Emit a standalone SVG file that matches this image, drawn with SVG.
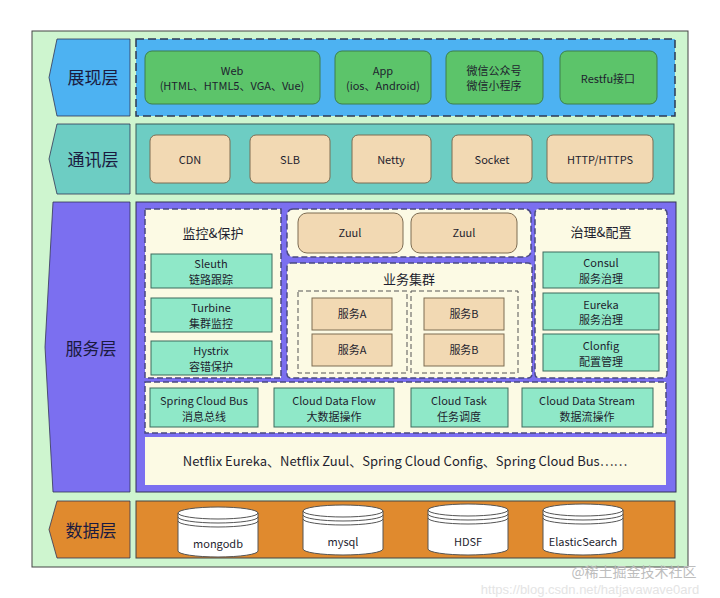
<svg xmlns="http://www.w3.org/2000/svg" width="720" height="598" viewBox="0 0 720 598">
<defs>
<style>
text{font-family:"Noto Sans CJK SC","Liberation Sans",sans-serif;text-anchor:middle;fill:#1e1e2e}
.n{font-size:11px}
.lab{font-size:17px;fill:#1a1a40}
.h{font-size:13px}
.green{fill:#5cc46a;stroke:#3c7f4a;stroke-width:1}
.tan{fill:#f2d9b3;stroke:#7d6c52;stroke-width:1}
.mint{fill:#8fe8c8;stroke:#3c6a5c;stroke-width:1}
.cream{fill:#fcfae4}
.dash{fill:#fcfae4;stroke:#4a4a80;stroke-width:1.5;stroke-dasharray:6 3}
.dash2{fill:none;stroke:#555;stroke-width:1;stroke-dasharray:5 3}
.cyl{fill:#fff;stroke:#555;stroke-width:1}
.line{fill:none;stroke:#555;stroke-width:1}
</style>
</defs>
<rect x="0" y="0" width="720" height="598" fill="#fff"/>
<rect x="32" y="31" width="656" height="536" fill="#cef5cf" stroke="#444" stroke-width="1"/>

<g id="layer-labels">
<g id="label-presentation"><path d="M57,39 H130 V116 H57 L49,77.5 Z" fill="#4db2f2" stroke="#335" stroke-width="0.8"/><text class="lab" x="93" y="84">展现层</text></g>
<g id="label-comm"><path d="M57,124 H130 V194 H57 L49,159 Z" fill="#6dcdc3" stroke="#335" stroke-width="0.8"/><text class="lab" x="93" y="166">通讯层</text></g>
<g id="label-service"><path d="M53,202 H130 V492 H53 L45,347 Z" fill="#7b6ff0" stroke="#335" stroke-width="0.8"/><text class="lab" x="91" y="355">服务层</text></g>
<g id="label-data"><path d="M57,501 H130 V558 H57 L49,529.5 Z" fill="#e08a2e" stroke="#335" stroke-width="0.8"/><text class="lab" x="91" y="537">数据层</text></g>
</g>

<g id="presentation">
<rect x="136" y="39" width="539" height="77" fill="#4db2f2" stroke="#2e3a55" stroke-width="1.5" stroke-dasharray="8 4"/>
<g id="web"><rect class="green" x="145" y="51" width="175" height="53" rx="7"/><text class="n" x="232" y="75">Web</text><text class="n" x="232" y="90">(HTML、HTML5、VGA、Vue)</text></g>
<g id="app"><rect class="green" x="335" y="51" width="96" height="53" rx="7"/><text class="n" x="383" y="75">App</text><text class="n" x="383" y="90">(ios、Android)</text></g>
<g id="wechat"><rect class="green" x="446" y="51" width="97" height="53" rx="7"/><text class="n" x="494" y="75">微信公众号</text><text class="n" x="494" y="90">微信小程序</text></g>
<g id="restful"><rect class="green" x="560" y="51" width="97" height="53" rx="7"/><text class="n" x="608" y="83">Restfu接口</text></g>
</g>

<g id="communication">
<rect x="136" y="124" width="538" height="70" fill="#6dcdc3" stroke="#3a5a5a" stroke-width="1"/>
<g id="cdn"><rect class="tan" x="150" y="135" width="80" height="48" rx="6"/><text class="n" x="190" y="164">CDN</text></g>
<g id="slb"><rect class="tan" x="250" y="135" width="80" height="48" rx="6"/><text class="n" x="290" y="164">SLB</text></g>
<g id="netty"><rect class="tan" x="352" y="135" width="79" height="48" rx="6"/><text class="n" x="391" y="164">Netty</text></g>
<g id="socket"><rect class="tan" x="452" y="135" width="80" height="48" rx="6"/><text class="n" x="492" y="164">Socket</text></g>
<g id="http"><rect class="tan" x="547" y="135" width="106" height="48" rx="6"/><text class="n" x="600" y="164">HTTP/HTTPS</text></g>
</g>

<g id="service">
<rect x="136" y="202" width="540" height="290" fill="#7b6ff0" stroke="#335" stroke-width="1"/>

<g id="monitor">
<rect class="dash" x="145" y="209" width="136" height="169"/>
<text class="h" x="213" y="238">监控&amp;保护</text>
<g id="sleuth"><rect class="mint" x="151" y="254" width="121" height="34"/><text class="n" x="211" y="268">Sleuth</text><text class="n" x="211" y="284">链路跟踪</text></g>
<g id="turbine"><rect class="mint" x="151" y="298" width="121" height="34"/><text class="n" x="211" y="312">Turbine</text><text class="n" x="211" y="328">集群监控</text></g>
<g id="hystrix"><rect class="mint" x="151" y="341" width="121" height="34"/><text class="n" x="211" y="355">Hystrix</text><text class="n" x="211" y="371">容错保护</text></g>
</g>

<g id="zuul-group">
<rect class="dash" x="287" y="209" width="244" height="48" rx="6"/>
<g id="zuul1"><rect class="tan" x="298" y="213" width="105" height="40" rx="9"/><text class="n" x="350" y="237">Zuul</text></g>
<g id="zuul2"><rect class="tan" x="411" y="213" width="106" height="40" rx="9"/><text class="n" x="464" y="237">Zuul</text></g>
</g>

<g id="cluster">
<rect class="dash" x="287" y="263" width="245" height="115" rx="4"/>
<text class="h" x="409" y="284">业务集群</text>
<rect class="dash2" x="298" y="291" width="109" height="82"/>
<rect class="dash2" x="411" y="291" width="107" height="82"/>
<g id="svcA1"><rect class="tan" x="312" y="298" width="80" height="32"/><text class="n" x="352" y="318">服务A</text></g>
<g id="svcA2"><rect class="tan" x="312" y="334" width="80" height="32"/><text class="n" x="352" y="354">服务A</text></g>
<g id="svcB1"><rect class="tan" x="424" y="298" width="80" height="32"/><text class="n" x="464" y="318">服务B</text></g>
<g id="svcB2"><rect class="tan" x="424" y="334" width="80" height="32"/><text class="n" x="464" y="354">服务B</text></g>
</g>

<g id="governance">
<rect class="dash" x="535" y="209" width="132" height="169" rx="4"/>
<text class="h" x="601" y="237">治理&amp;配置</text>
<g id="consul"><rect class="mint" x="543" y="252" width="116" height="36"/><text class="n" x="601" y="267">Consul</text><text class="n" x="601" y="283">服务治理</text></g>
<g id="eureka"><rect class="mint" x="543" y="293" width="116" height="37"/><text class="n" x="601" y="309">Eureka</text><text class="n" x="601" y="324">服务治理</text></g>
<g id="clonfig"><rect class="mint" x="543" y="334" width="116" height="37"/><text class="n" x="601" y="350">Clonfig</text><text class="n" x="601" y="366">配置管理</text></g>
</g>

<g id="spring-row">
<rect class="dash" x="145" y="382" width="521" height="51"/>
<g id="bus"><rect class="mint" x="150" y="388" width="108" height="39"/><text class="n" x="204" y="405">Spring Cloud Bus</text><text class="n" x="204" y="421">消息总线</text></g>
<g id="flow"><rect class="mint" x="274" y="388" width="120" height="39"/><text class="n" x="334" y="405">Cloud Data Flow</text><text class="n" x="334" y="421">大数据操作</text></g>
<g id="task"><rect class="mint" x="411" y="388" width="97" height="39"/><text class="n" x="459" y="405">Cloud Task</text><text class="n" x="459" y="421">任务调度</text></g>
<g id="stream"><rect class="mint" x="522" y="388" width="131" height="39"/><text class="n" x="587" y="405">Cloud Data Stream</text><text class="n" x="587" y="421">数据流操作</text></g>
</g>

<g id="netflix">
<rect class="cream" x="145" y="437" width="521" height="48"/>
<text x="405" y="466" style="font-size:13px">Netflix Eureka、Netflix Zuul、Spring Cloud Config、Spring Cloud Bus……</text>
</g>
</g>

<g id="data">
<rect x="136" y="501" width="539" height="57" fill="#e08a2e" stroke="#444" stroke-width="1"/>
<g id="mongodb"><path class="cyl" d="M178,513 A40,6 0 0 1 258,513 V551 A40,6 0 0 1 178,551 Z"/><path class="line" d="M178,513 A40,6 0 0 0 258,513 M178,517 A40,6 0 0 0 258,517 M178,521 A40,6 0 0 0 258,521"/><text class="n" x="218" y="548">mongodb</text></g>
<g id="mysql"><path class="cyl" d="M303,511 A40,6 0 0 1 383,511 V549 A40,6 0 0 1 303,549 Z"/><path class="line" d="M303,511 A40,6 0 0 0 383,511 M303,515 A40,6 0 0 0 383,515 M303,519 A40,6 0 0 0 383,519"/><text class="n" x="343" y="546">mysql</text></g>
<g id="hdsf"><path class="cyl" d="M428,510 A40,6 0 0 1 508,510 V549 A40,6 0 0 1 428,549 Z"/><path class="line" d="M428,510 A40,6 0 0 0 508,510 M428,514 A40,6 0 0 0 508,514 M428,518 A40,6 0 0 0 508,518"/><text class="n" x="468" y="546">HDSF</text></g>
<g id="es"><path class="cyl" d="M543,510 A40,6 0 0 1 623,510 V549 A40,6 0 0 1 543,549 Z"/><path class="line" d="M543,510 A40,6 0 0 0 623,510 M543,514 A40,6 0 0 0 623,514 M543,518 A40,6 0 0 0 623,518"/><text class="n" x="583" y="546">ElasticSearch</text></g>
</g>

<g id="watermark">
<text x="590" y="594" style="font-size:13px;fill:#e4e4e4;font-family:'Liberation Sans',sans-serif">https://blog.csdn.net/hatjavawave0ard</text>
<text x="634" y="577" style="font-size:14px;fill:#bdbdbd">@稀土掘金技术社区</text>
</g>
</svg>
